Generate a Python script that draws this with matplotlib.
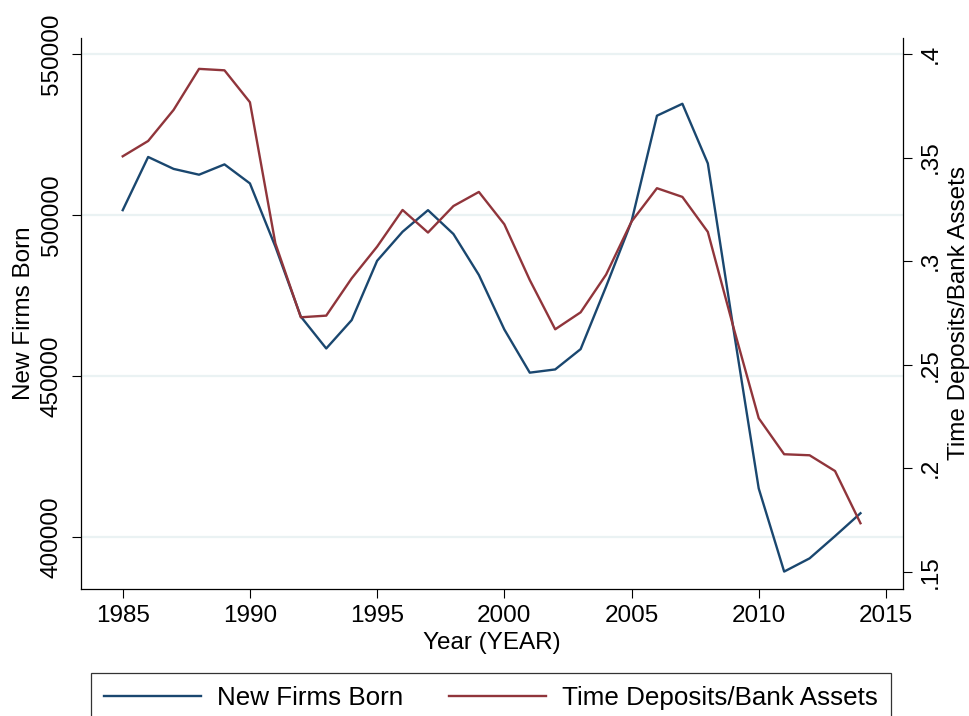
import numpy as np
import matplotlib.pyplot as plt
from matplotlib.lines import Line2D

plt.rcParams['font.family'] = ['Liberation Sans', 'DejaVu Sans']

years = list(range(1985, 2015))
new_firms = [501500, 518000, 514300, 512500, 515700, 509800, 490200, 468500,
             458600, 467400, 485800, 494800, 501500, 494100, 481400, 464500,
             451100, 452100, 458400, 477800, 498000, 530800, 534500, 516000,
             465000, 415200, 389400, 393500, 400400, 407500]
time_dep = [0.3506, 0.358, 0.373, 0.3928, 0.3921, 0.3767, 0.3086, 0.2729,
            0.2737, 0.2917, 0.307, 0.3247, 0.3138, 0.3266, 0.3334, 0.3178,
            0.2909, 0.2671, 0.2753, 0.2935, 0.3191, 0.3352, 0.331, 0.3141,
            0.2684, 0.2242, 0.2068, 0.2063, 0.1987, 0.1735]

x_ticks = [1985, 1990, 1995, 2000, 2005, 2010, 2015]
left_ticks = [400000, 450000, 500000, 550000]
right_ticks = [0.15, 0.2, 0.25, 0.3, 0.35, 0.4]
right_labels = ['.15', '.2', '.25', '.3', '.35', '.4']

navy = '#1a476f'
maroon = '#90353b'
fs = 17.5

fig = plt.figure(figsize=(9.7, 7.16), dpi=100)
ax = fig.add_axes([81 / 970, 1 - 588.7 / 716, (902.7 - 81) / 970, (588.7 - 38) / 716])
ax2 = ax.twinx()

ax.plot(years, new_firms, color=navy, lw=1.7)
ax2.plot(years, time_dep, color=maroon, lw=1.7)

ax.set_xlim(1983.36, 2015.66)
ax.set_ylim(384090, 554900)
ax2.set_ylim(0.1419, 0.4077)

ax.set_xticks(x_ticks)
ax.set_yticks(left_ticks)
ax.set_yticklabels([str(t) for t in left_ticks], rotation=90, va='center')
ax2.set_yticks(right_ticks)
ax2.set_yticklabels(right_labels, rotation=90, va='center')

ax.grid(axis='y', color='#eaf2f3', lw=1.6)
ax.set_axisbelow(True)

for a in (ax, ax2):
    a.spines['top'].set_visible(False)
    for s in a.spines.values():
        s.set_linewidth(0.9)
    a.tick_params(direction='out', length=6.5, width=0.8, labelsize=fs, pad=5.5)
ax.tick_params(axis='y', pad=6.5)
ax.spines['right'].set_visible(False)
ax2.spines['left'].set_visible(False)
ax2.spines['bottom'].set_visible(False)

ax.set_xlabel('Year (YEAR)', fontsize=fs, labelpad=3)
ax.set_ylabel('New Firms Born', fontsize=fs, labelpad=4)
ax2.set_ylabel('Time Deposits/Bank Assets', fontsize=fs, labelpad=5)

# legend box sits under the x title and runs off the bottom edge
handles = [Line2D([], [], color=navy, lw=1.7), Line2D([], [], color=maroon, lw=1.7)]
leg = fig.legend(handles, ['New Firms Born', 'Time Deposits/Bank Assets'],
                 loc='upper center', ncol=2,
                 bbox_to_anchor=((90 + 892) / 2 / 970, 1 - 673 / 716),
                 borderaxespad=0, fontsize=18.7, frameon=True, fancybox=False,
                 edgecolor='black', handlelength=3.73, handletextpad=0.62,
                 borderpad=0.5, columnspacing=1.77)
leg.get_frame().set_linewidth(0.9)

fig.savefig('out.png', dpi=100)
